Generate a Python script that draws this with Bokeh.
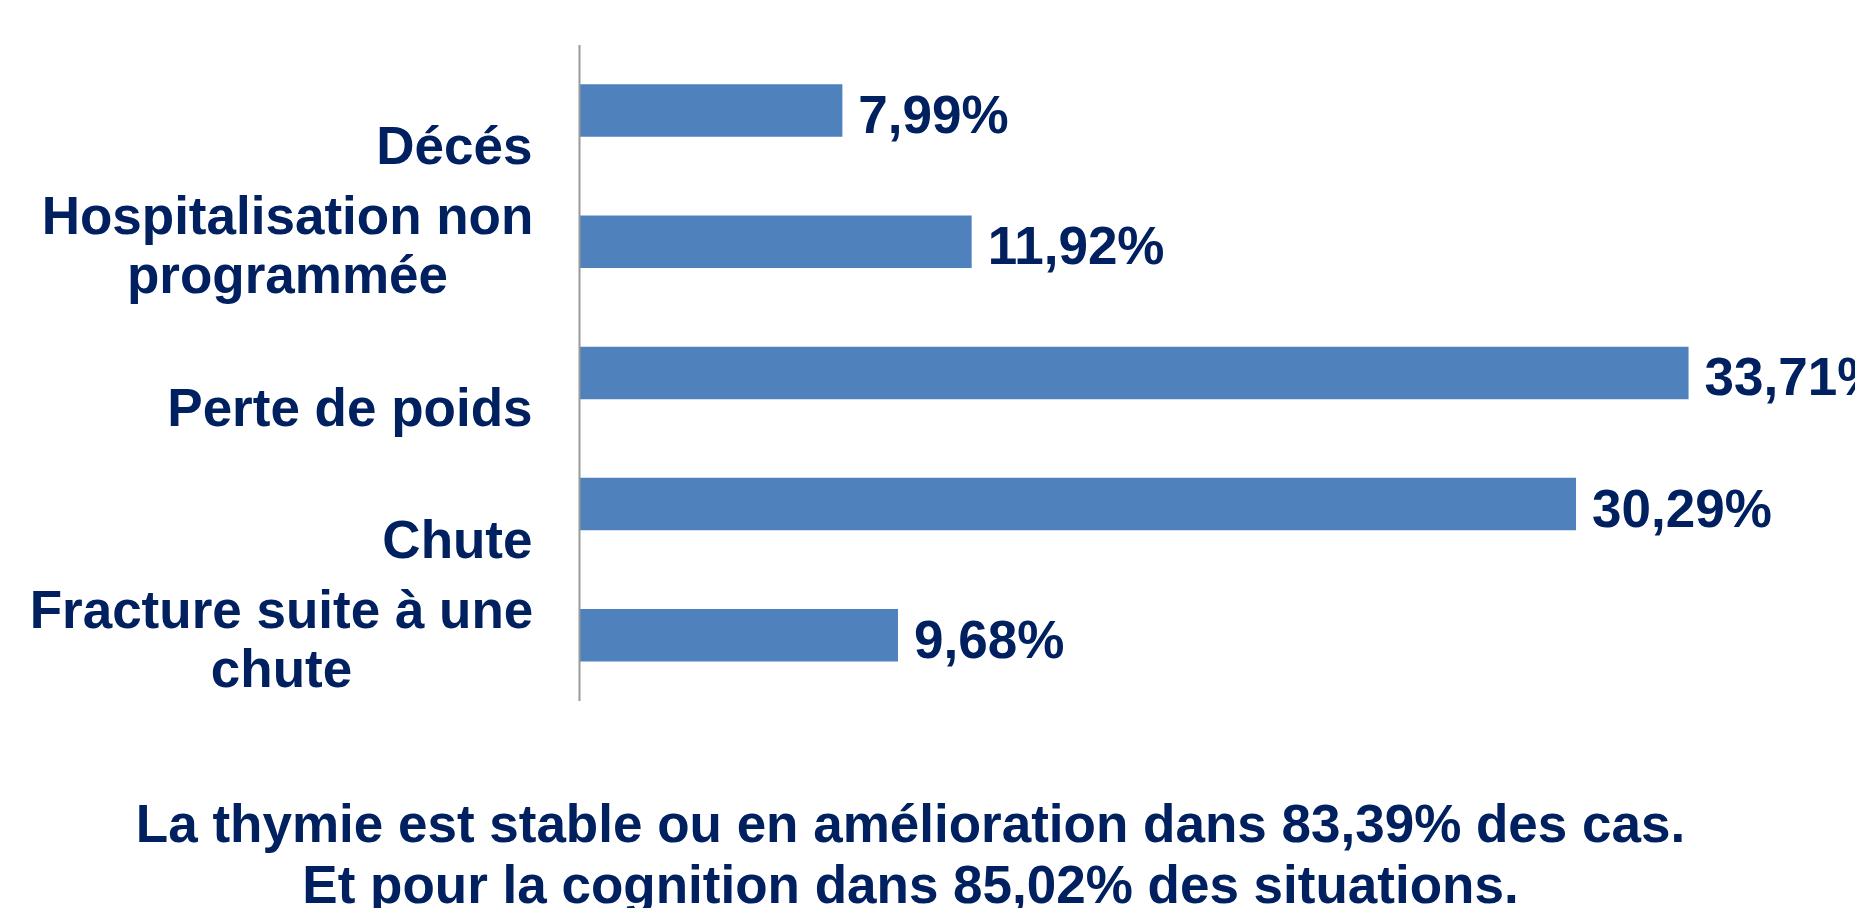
from bokeh.plotting import figure
from bokeh.models import Range1d
from bokeh.core.properties import value
from bokeh.embed import file_html
from bokeh.resources import INLINE

# ---- data ----
categories = ["Décés", "Hospitalisation non\nprogrammée", "Perte de poids", "Chute", "Fracture suite à une\nchute"]
values = [7.99, 11.92, 33.71, 30.29, 9.68]
value_labels = ["7,99%", "11,92%", "33,71%", "30,29%", "9,68%"]
notes = ["La thymie est stable ou en amélioration dans 83,39% des cas.",
         "Et pour la cognition dans 85,02% des situations."]

# ---- layout constants (pixels) ----
W, H = 1855, 908
AX_PX = 579          # x of the value axis (figure px)
PXU = 32.9           # px per percent
BAND = 131.2         # px per category
TOP0 = 110           # center of first category (figure px)
DY = -17             # text vertical correction (px)

BAR_COLOR = "#4F81BD"
TXT_COLOR = "#002060"
FONT = value("Liberation Sans")
FS = "53px"

p = figure(width=W, height=H, output_backend="svg", toolbar_location=None,
           x_range=Range1d(-AX_PX / PXU, (W - AX_PX) / PXU),
           y_range=Range1d((H - TOP0) / BAND, -TOP0 / BAND),
           min_border=0, min_border_left=0, min_border_right=0,
           min_border_top=0, min_border_bottom=0)
p.xaxis.visible = False
p.yaxis.visible = False
p.xgrid.visible = False
p.ygrid.visible = False
p.outline_line_color = None
p.background_fill_color = "white"
p.border_fill_color = "white"

idx = list(range(len(categories)))

# bars
p.hbar(y=idx, left=0, right=values, height=0.4, fill_color=BAR_COLOR, line_color=None)

# vertical axis line
p.segment(x0=[0], y0=[-0.5], x1=[0], y1=[len(categories) - 0.5],
          line_color="#9A9A9A", line_width=2)

# value labels
p.text(x=values, y=[i + (21 + DY) / BAND for i in idx], text=value_labels,
       x_offset=16, text_align="left", text_baseline="alphabetic",
       text_font=FONT, text_font_style="bold", text_font_size=FS, text_color=TXT_COLOR)

# category labels
two_line_center = {1: -292, 4: -298}
lx, ly, lt, la = [], [], [], []
for i, c in enumerate(categories):
    lines = c.split("\n")
    if len(lines) == 1:
        lx.append(-47 / PXU); ly.append(i + (52 + DY) / BAND); lt.append(lines[0]); la.append("right")
    else:
        cx = two_line_center[i] / PXU
        lx.append(cx); ly.append(i + (-9 + DY) / BAND); lt.append(lines[0]); la.append("center")
        lx.append(cx); ly.append(i + (50 + DY) / BAND); lt.append(lines[1]); la.append("center")
p.text(x=lx, y=ly, text=lt, text_align=la, text_baseline="alphabetic",
       text_font=FONT, text_font_style="bold", text_font_size=FS, text_color=TXT_COLOR)

# bottom notes
note_x = (910 - AX_PX) / PXU
note_y = [(840 + DY - TOP0) / BAND, (901 + DY - TOP0) / BAND]
p.text(x=[note_x] * len(notes), y=note_y, text=notes, text_align="center",
       text_baseline="alphabetic", text_font=FONT, text_font_style="bold",
       text_font_size=FS, text_color=TXT_COLOR)

open("out.html", "w").write(file_html(p, INLINE))
